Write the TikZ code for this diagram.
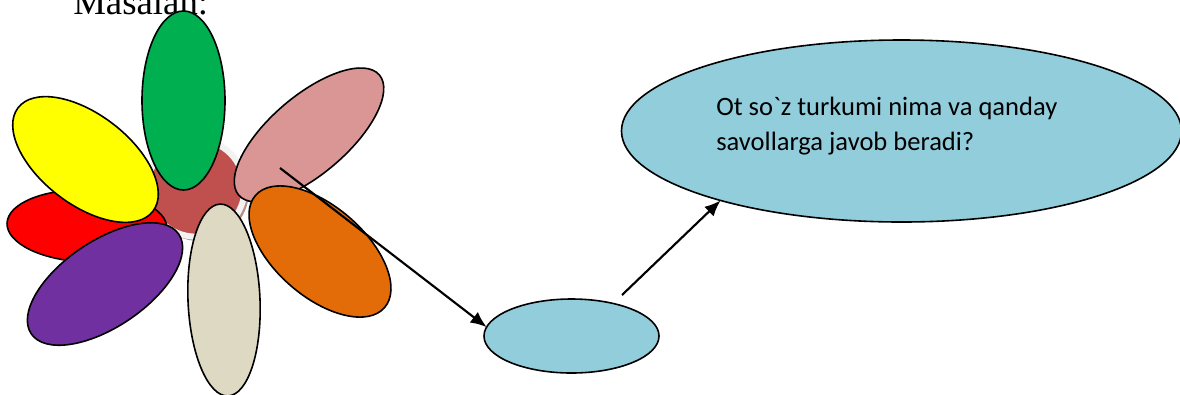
\documentclass[tikz,border=0pt]{standalone}
\usepackage{fontspec}
\setmainfont{Liberation Serif}
\newfontfamily\bodyfont{Carlito}
\usetikzlibrary{shapes.geometric,arrows.meta}
\definecolor{skyfill}{HTML}{92CDDC}
\definecolor{hubfill}{HTML}{C0504D}
\definecolor{hubring}{HTML}{F2F2F2}
\definecolor{hubshadow}{HTML}{B58E8E}
\definecolor{pinkfill}{HTML}{D99694}
\definecolor{orangefill}{HTML}{E36C09}
\definecolor{purplefill}{HTML}{7030A0}
\definecolor{greenfill}{HTML}{00B050}
\definecolor{beigefill}{HTML}{DDD9C3}
\definecolor{yellowfill}{HTML}{FFFF00}
\definecolor{redfill}{HTML}{FF0000}
\tikzset{
  oval/.style={ellipse,draw=black,line width=1.2pt,inner sep=0pt,outer sep=0pt},
  petal/.style 2 args={oval,minimum width=#1*0.75pt,minimum height=#2*0.75pt},
  link/.style={line width=1.6pt,-{Latex[length=12pt,width=10pt]}}
}
\begin{document}
\begin{tikzpicture}[x=0.75pt,y=-0.75pt]
\useasboundingbox (0,0) rectangle (1180,394);
\clip (0,0) rectangle (1180,394);
\fill[white] (0,0) rectangle (1180,394);
\node[anchor=base west,inner sep=0pt,font=\fontsize{27.6pt}{30pt}\selectfont] (title) at (73,14) {Masalan:};
\node[circle,fill=hubshadow,minimum size=75pt,inner sep=0pt] (hubsh) at (199,191) {};
\node[circle,fill=hubfill,draw=hubring,line width=4.5pt,minimum size=73pt,inner sep=0pt] (hub) at (196,188) {};
\node[petal={160}{72},fill=redfill,rotate=-2] (red) at (87,226) {};
\node[petal={170}{90},fill=yellowfill,rotate=-37.5] (yellow) at (85.5,159.5) {};
\node[petal={178}{86},fill=purplefill,rotate=34] (purple) at (105,284) {};
\node[petal={179}{83},fill=greenfill,rotate=90] (green) at (183.5,100.5) {};
\node[petal={185}{78},fill=pinkfill,rotate=40.5] (pink) at (309,135) {};
\node[petal={171}{90},fill=orangefill,rotate=-41] (orange) at (320,251.5) {};
\node[petal={192}{72},fill=beigefill,rotate=-87.6] (beige) at (224,300) {};
\node[oval,fill=skyfill,minimum width=131.25pt,minimum height=55.5pt] (small) at (571.5,336) {};
\node[oval,fill=skyfill,minimum width=420pt,minimum height=136.5pt] (big) at (901.5,131) {};
\node[anchor=base west,inner sep=0pt,align=left,font=\bodyfont\fontsize{19.9pt}{26.25pt}\selectfont] (label) at (716,150) {Ot so`z turkumi nima va qanday\\savollarga javob beradi?};
\coordinate (fromPink) at (280,168);
\coordinate (fromSmall) at (622,295);
\draw[link] (fromPink) -- (small.174);
\draw[link] (fromSmall) -- (big.201);
\end{tikzpicture}
\end{document}
